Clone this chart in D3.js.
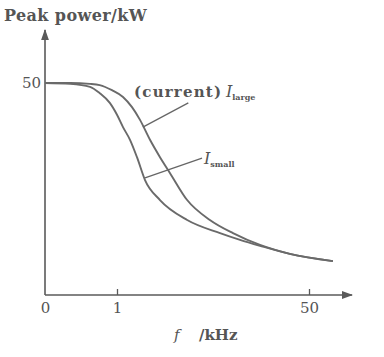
<!DOCTYPE html>
<html>
<head>
<meta charset="utf-8">
<script src="https://cdn.jsdelivr.net/npm/d3@7"></script>
<style>
  body { margin: 0; background: #fff; }
  text { font-family: "DejaVu Serif", serif; fill: #555; }
</style>
</head>
<body>
<svg width="384" height="357"></svg>
<script>
// frequency in kHz, peak power in kW
let xTicks = [0, 1, 50];
let yTicks = [50];
let largeF = [0, 0.35, 0.625, 0.76, 0.93, 2.53, 4.83, 6.87, 9.42, 11.97, 14.5, 18.9, 24.7, 30.6, 37.5, 45.1, 56.1];
let largeP = [50, 50, 49.8, 49.5, 48.3, 46.7, 44.3, 41.3, 36.6, 32.5, 28.8, 22.4, 17.7, 14.6, 11.8, 9.7, 8.0];
let smallF = [0, 0.35, 0.625, 0.76, 0.9, 1, 2.53, 4.32, 6.1, 8.15, 11.97, 18.9, 27.3, 32.4, 37.5, 45.1, 56.1];
let smallP = [50, 49.8, 49.1, 47.6, 45.3, 42.5, 39.6, 36.6, 32.5, 27.1, 22.4, 17.7, 14.6, 13.0, 11.6, 9.7, 8.0];

let svg = d3.select("svg");

// the frequency axis is not uniform: 0..1 and 1..50 get their own stretch
let x = d3.scaleLinear().domain([0, 1, 50]).range([45, 117, 309]);
let y = d3.scaleLinear().domain([0, 50]).range([295, 83]);

let ink = "#5a5a5a";

// arrow head
svg.append("defs").append("marker")
	.attr("id", "arrow")
	.attr("viewBox", "0 0 10 10")
	.attr("refX", 9).attr("refY", 5)
	.attr("markerWidth", 7).attr("markerHeight", 7)
	.attr("orient", "auto")
	.append("path")
	.attr("d", "M0,1.5 L10,5 L0,8.5 Z")
	.attr("fill", ink);

// axis lines
svg.append("line")
	.attr("x1", x(0)).attr("y1", y(0))
	.attr("x2", 352).attr("y2", y(0))
	.attr("stroke", ink).attr("stroke-width", 1.6)
	.attr("marker-end", "url(#arrow)");
svg.append("line")
	.attr("x1", x(0)).attr("y1", y(0))
	.attr("x2", x(0)).attr("y2", 30)
	.attr("stroke", ink).attr("stroke-width", 1.6)
	.attr("marker-end", "url(#arrow)");

let xAxis = svg.append("g")
	.attr("transform", "translate(0," + y(0) + ")")
	.call(d3.axisBottom(x).tickValues(xTicks).tickSize(-6).tickPadding(7).tickFormat(d3.format("d")));
xAxis.select(".domain").remove();
xAxis.selectAll("line").attr("stroke", ink).attr("stroke-width", 1.3)
	.filter(d => d == 0).remove();
xAxis.selectAll("text").attr("font-size", 15).attr("font-family", "DejaVu Serif").attr("fill", "#777");

let yAxis = svg.append("g")
	.attr("transform", "translate(" + x(0) + ",0)")
	.call(d3.axisLeft(y).tickValues(yTicks).tickSize(0).tickPadding(4));
yAxis.select(".domain").remove();
yAxis.selectAll("text").attr("font-size", 15).attr("font-family", "DejaVu Serif").attr("fill", "#777");

// curves
let line = d3.line()
	.x(d => x(d[0]))
	.y(d => y(d[1]))
	.curve(d3.curveMonotoneX);

svg.append("path")
	.datum(d3.zip(largeF, largeP))
	.attr("d", line)
	.attr("fill", "none").attr("stroke", "#6a6a6a").attr("stroke-width", 1.9);
svg.append("path")
	.datum(d3.zip(smallF, smallP))
	.attr("d", line)
	.attr("fill", "none").attr("stroke", "#6a6a6a").attr("stroke-width", 1.9);

// leader lines to the labels
svg.append("line")
	.attr("x1", x(7.6)).attr("y1", y(39.6))
	.attr("x2", x(19.2)).attr("y2", y(45.3))
	.attr("stroke", "#666").attr("stroke-width", 1.3);
svg.append("line")
	.attr("x1", x(8.15)).attr("y1", y(27.6))
	.attr("x2", x(22.7)).attr("y2", y(32.3))
	.attr("stroke", "#666").attr("stroke-width", 1.3);

// labels
svg.append("text")
	.attr("x", 4).attr("y", 21)
	.attr("font-size", 16).attr("font-weight", "bold")
	.attr("letter-spacing", 0.4)
	.attr("fill", "#666")
	.text("Peak power/kW");

let lab1 = svg.append("text").attr("x", 134).attr("y", 97).attr("font-size", 15)
	.attr("font-weight", "bold").attr("fill", "#666");
lab1.append("tspan").attr("letter-spacing", 1.2).text("(current)");
lab1.append("tspan").attr("x", 226).attr("font-style", "italic").attr("font-weight", "normal").attr("font-size", 16).text("I");
lab1.append("tspan").attr("font-size", 8).attr("dy", 3).text("large");

let lab2 = svg.append("text").attr("x", 204).attr("y", 164).attr("font-size", 15).attr("fill", "#666");
lab2.append("tspan").attr("font-style", "italic").attr("font-size", 16).text("I");
lab2.append("tspan").attr("font-size", 8).attr("font-weight", "bold").attr("dy", 3).text("small");

let lab3 = svg.append("text").attr("x", 174).attr("y", 340).attr("font-size", 15).attr("fill", "#666");
lab3.append("tspan").attr("font-style", "italic").text("f");
lab3.append("tspan").attr("x", 199).attr("font-weight", "bold").text("/kHz");
</script>
</body>
</html>
